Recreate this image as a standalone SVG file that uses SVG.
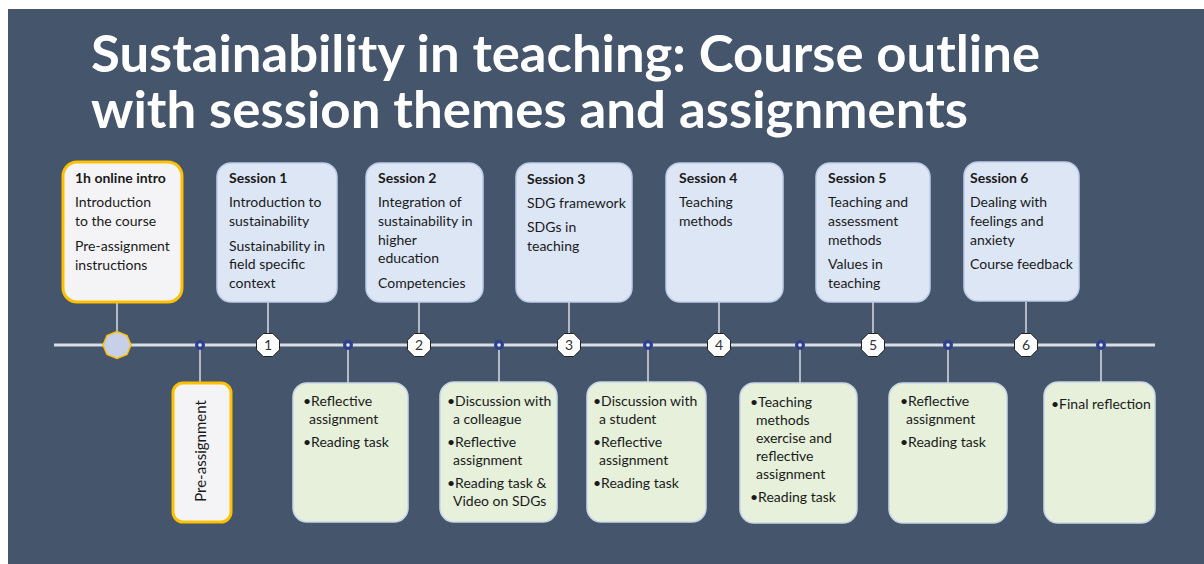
<svg xmlns="http://www.w3.org/2000/svg" width="1204" height="564" viewBox="0 0 1204 564">
<style>
.title{font-family:Lato,"Open Sans",sans-serif;font-weight:bold;font-size:52px;fill:#ffffff}
.t{font-family:Lato,"Noto Sans",sans-serif;font-size:14px;fill:#1a1a1a}
.h{font-weight:bold}
.top{fill:#dde6f5;stroke:#bfcde8;stroke-width:1.5}
.bot{fill:#e6f0da;stroke:#c9d6e8;stroke-width:1.5}
.yel{fill:#f4f4f6;stroke:#ffc000;stroke-width:3}
.conn{stroke:#d9dde4;stroke-width:1.5;fill:none}
.axis{stroke:#d9dde4;stroke-width:3;fill:none}
.num{fill:#ffffff;stroke:#222;stroke-width:1}
.nt{font-family:Lato,"Noto Sans",sans-serif;font-size:14px;fill:#333;text-anchor:middle}
.dot{fill:#2f3f8f}
.dotc{fill:#e8ecf5}
</style>
<defs>
<polygon id="oct" points="11.5,4.8 4.8,11.5 -4.8,11.5 -11.5,4.8 -11.5,-4.8 -4.8,-11.5 4.8,-11.5 11.5,-4.8"/>
</defs>
<rect x="8" y="9" width="1196" height="555" fill="#45556b"/>
<g id="title">
<text class="title" x="91" y="72" textLength="949" lengthAdjust="spacingAndGlyphs">Sustainability in teaching: Course outline</text>
<text class="title" x="91" y="128" textLength="877" lengthAdjust="spacingAndGlyphs">with session themes and assignments</text>
</g>
<g id="connectors">
<line class="axis" x1="54" y1="345" x2="1155" y2="345"/>
<line class="conn" x1="117" y1="302" x2="117" y2="345"/>
<line class="conn" x1="268" y1="302" x2="268" y2="345"/>
<line class="conn" x1="419" y1="302" x2="419" y2="345"/>
<line class="conn" x1="569" y1="302" x2="569" y2="345"/>
<line class="conn" x1="719" y1="302" x2="719" y2="345"/>
<line class="conn" x1="873" y1="302" x2="873" y2="345"/>
<line class="conn" x1="1026" y1="302" x2="1026" y2="345"/>
<line class="conn" x1="200" y1="345" x2="200" y2="383"/>
<line class="conn" x1="348" y1="345" x2="348" y2="383"/>
<line class="conn" x1="499" y1="345" x2="499" y2="383"/>
<line class="conn" x1="648" y1="345" x2="648" y2="383"/>
<line class="conn" x1="800" y1="345" x2="800" y2="383"/>
<line class="conn" x1="948" y1="345" x2="948" y2="383"/>
<line class="conn" x1="1101" y1="345" x2="1101" y2="383"/>
</g>
<g id="markers">
<polygon points="131,345 127,354.5 117,358.5 107,354.5 103,345 107,335.5 117,331.5 127,335.5" fill="#c7cfe9" stroke="#ffc000" stroke-width="1.5"/>
<g transform="translate(268,345)"><use href="#oct" class="num"/><text class="nt" y="5">1</text></g>
<g transform="translate(419,345)"><use href="#oct" class="num"/><text class="nt" y="5">2</text></g>
<g transform="translate(569,345)"><use href="#oct" class="num"/><text class="nt" y="5">3</text></g>
<g transform="translate(719,345)"><use href="#oct" class="num"/><text class="nt" y="5">4</text></g>
<g transform="translate(873,345)"><use href="#oct" class="num"/><text class="nt" y="5">5</text></g>
<g transform="translate(1026,345)"><use href="#oct" class="num"/><text class="nt" y="5">6</text></g>
<g><circle class="dot" cx="200" cy="345" r="5"/><circle class="dotc" cx="200" cy="345" r="1.8"/></g>
<g><circle class="dot" cx="348" cy="345" r="5"/><circle class="dotc" cx="348" cy="345" r="1.8"/></g>
<g><circle class="dot" cx="499" cy="345" r="5"/><circle class="dotc" cx="499" cy="345" r="1.8"/></g>
<g><circle class="dot" cx="648" cy="345" r="5"/><circle class="dotc" cx="648" cy="345" r="1.8"/></g>
<g><circle class="dot" cx="800" cy="345" r="5"/><circle class="dotc" cx="800" cy="345" r="1.8"/></g>
<g><circle class="dot" cx="948" cy="345" r="5"/><circle class="dotc" cx="948" cy="345" r="1.8"/></g>
<g><circle class="dot" cx="1101" cy="345" r="5"/><circle class="dotc" cx="1101" cy="345" r="1.8"/></g>
</g>
<g id="intro">
<rect class="yel" x="63" y="162" width="119" height="140" rx="14"/>
<text class="t h" x="75" y="183">1h online intro</text>
<text class="t" x="75" y="207">Introduction</text>
<text class="t" x="75" y="226">to the course</text>
<text class="t" x="75" y="251">Pre-assignment</text>
<text class="t" x="75" y="270">instructions</text>
</g>
<g id="session1">
<rect class="top" x="217" y="163" width="120" height="139" rx="14"/>
<text class="t h" x="229" y="183">Session 1</text>
<text class="t" x="229" y="207">Introduction to</text>
<text class="t" x="229" y="226">sustainability</text>
<text class="t" x="229" y="251">Sustainability in</text>
<text class="t" x="229" y="269">field specific</text>
<text class="t" x="229" y="288">context</text>
</g>
<g id="session2">
<rect class="top" x="366" y="163" width="117" height="139" rx="14"/>
<text class="t h" x="378" y="183">Session 2</text>
<text class="t" x="378" y="207">Integration of</text>
<text class="t" x="378" y="226">sustainability in</text>
<text class="t" x="378" y="245">higher</text>
<text class="t" x="378" y="263">education</text>
<text class="t" x="378" y="288">Competencies</text>
</g>
<g id="session3">
<rect class="top" x="516" y="163" width="116" height="139" rx="14"/>
<text class="t h" x="527" y="184">Session 3</text>
<text class="t" x="527" y="208">SDG framework</text>
<text class="t" x="527" y="232">SDGs in</text>
<text class="t" x="527" y="251">teaching</text>
</g>
<g id="session4">
<rect class="top" x="666" y="163" width="117" height="139" rx="14"/>
<text class="t h" x="679" y="183">Session 4</text>
<text class="t" x="679" y="207">Teaching</text>
<text class="t" x="679" y="226">methods</text>
</g>
<g id="session5">
<rect class="top" x="816" y="163" width="114" height="139" rx="14"/>
<text class="t h" x="828" y="183">Session 5</text>
<text class="t" x="828" y="207">Teaching and</text>
<text class="t" x="828" y="226">assessment</text>
<text class="t" x="828" y="245">methods</text>
<text class="t" x="828" y="269">Values in</text>
<text class="t" x="828" y="288">teaching</text>
</g>
<g id="session6">
<rect class="top" x="964" y="162" width="115" height="139" rx="14"/>
<text class="t h" x="970" y="183">Session 6</text>
<text class="t" x="970" y="207">Dealing with</text>
<text class="t" x="970" y="226">feelings and</text>
<text class="t" x="970" y="245">anxiety</text>
<text class="t" x="970" y="269">Course feedback</text>
</g>
<g id="preassignment">
<rect class="yel" x="173" y="383" width="58" height="139" rx="10"/>
<text class="t" style="font-size:15px" transform="translate(206,451) rotate(-90)" text-anchor="middle">Pre-assignment</text>
</g>
<g id="assign1">
<rect class="bot" x="293" y="383" width="115" height="139" rx="14"/>
<text class="t" x="303" y="406">•Reflective</text>
<text class="t" x="309" y="424">assignment</text>
<text class="t" x="303" y="447">•Reading task</text>
</g>
<g id="assign2">
<rect class="bot" x="440" y="382" width="117" height="140" rx="14"/>
<text class="t" x="447" y="406">•Discussion with</text>
<text class="t" x="453" y="424">a colleague</text>
<text class="t" x="447" y="447">•Reflective</text>
<text class="t" x="453" y="465">assignment</text>
<text class="t" x="447" y="488">•Reading task &amp;</text>
<text class="t" x="453" y="506">Video on SDGs</text>
</g>
<g id="assign3">
<rect class="bot" x="587" y="382" width="119" height="140" rx="14"/>
<text class="t" x="593" y="406">•Discussion with</text>
<text class="t" x="599" y="424">a student</text>
<text class="t" x="593" y="447">•Reflective</text>
<text class="t" x="599" y="465">assignment</text>
<text class="t" x="593" y="488">•Reading task</text>
</g>
<g id="assign4">
<rect class="bot" x="740" y="383" width="117" height="140" rx="14"/>
<text class="t" x="750" y="407">•Teaching</text>
<text class="t" x="756" y="425">methods</text>
<text class="t" x="756" y="443">exercise and</text>
<text class="t" x="756" y="461">reflective</text>
<text class="t" x="756" y="479">assignment</text>
<text class="t" x="750" y="502">•Reading task</text>
</g>
<g id="assign5">
<rect class="bot" x="889" y="383" width="118" height="140" rx="14"/>
<text class="t" x="900" y="406">•Reflective</text>
<text class="t" x="906" y="424">assignment</text>
<text class="t" x="900" y="447">•Reading task</text>
</g>
<g id="assign6">
<rect class="bot" x="1044" y="382" width="111" height="141" rx="14"/>
<text class="t" x="1051" y="409">•Final reflection</text>
</g>
</svg>
